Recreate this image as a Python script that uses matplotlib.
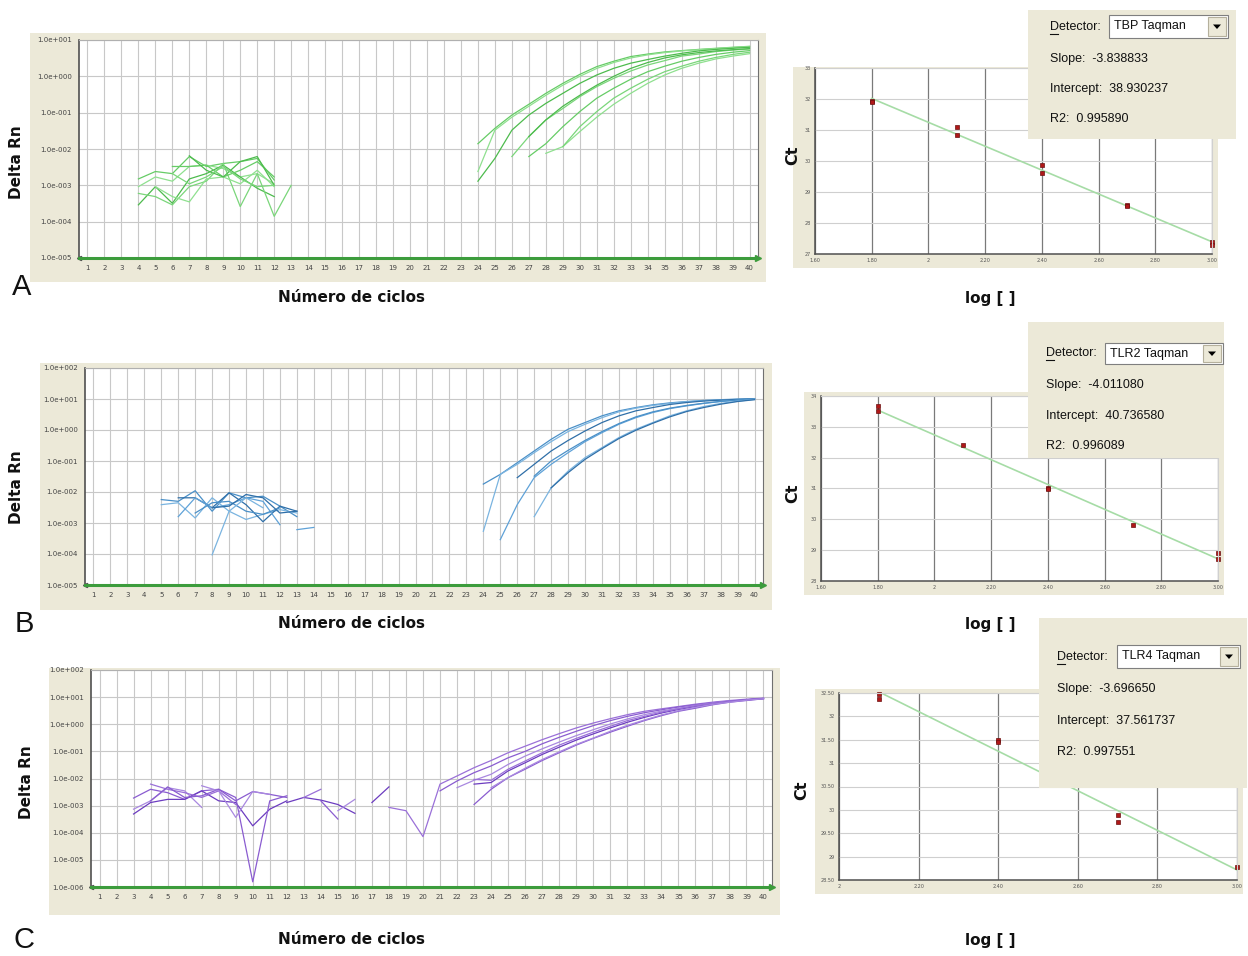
import numpy as np
import matplotlib
matplotlib.use('Agg')
import matplotlib.pyplot as plt
from matplotlib.patches import Rectangle, Polygon
from matplotlib.lines import Line2D
from matplotlib.ticker import NullLocator

W, H = 1248, 956

# amplification traces: (first cycle, Delta Rn per cycle)
tbp_noise = [
    (4, [1.5e-3, 2.4e-3, 2.1e-3, 6.2e-3, 3.3e-3, 4.0e-3, 4.5e-3, 5.5e-3, 1.4e-3]),
    (4, [9.2e-4, 1.7e-3, 1.3e-3, 3.3e-3, 3.6e-3, 2.9e-3, 1.7e-3, 2.1e-3, 1.1e-3]),
    (4, [2.9e-4, 9.2e-4, 3.2e-4, 1.5e-3, 2.1e-3, 3.6e-3, 1.7e-3, 8.3e-4, 4.9e-4]),
    (4, [6.0e-4, 4.9e-4, 2.9e-4, 9.2e-4, 1.3e-3, 4.0e-3, 2.6e-4, 2.1e-3, 1.4e-4, 1.0e-3]),
    (6, [3.3e-3, 3.3e-3, 3.6e-3, 1.7e-3, 2.6e-3, 4.5e-3, 1.7e-3]),
    (5, [9.2e-4, 4.9e-4, 3.5e-4, 1.5e-3, 1.7e-3, 1.1e-3, 2.6e-3, 9.2e-4]),
    (7, [6.5e-3, 2.6e-3, 1.7e-3, 4.5e-3, 6.2e-3, 1.0e-3]),
    (6, [2.1e-3, 1.1e-3, 1.7e-3, 3.3e-3, 1.5e-3, 9.2e-4, 1.0e-3]),
]
tbp_amp = [
    (24, [0.014, 0.037, 0.086, 0.17, 0.34, 0.64, 1.13, 1.85, 2.6, 3.5, 4.1, 4.7, 5.1, 5.5, 5.9, 6.3, 6.7]),
    (24, [0.0024, 0.033, 0.075, 0.15, 0.30, 0.57, 1.0, 1.65, 2.4, 3.2, 3.9, 4.5, 5.0, 5.4, 5.8, 6.2, 6.6]),
    (24, [0.0013, 0.0055, 0.033, 0.086, 0.18, 0.34, 0.64, 1.09, 1.66, 2.3, 2.9, 3.6, 4.3, 5.0, 5.5, 5.9, 6.3]),
    (26, [0.0062, 0.022, 0.063, 0.13, 0.275, 0.52, 0.88, 1.4, 2.05, 2.7, 3.6, 4.1, 4.8, 5.3, 5.65]),
    (27, [0.0062, 0.014, 0.041, 0.107, 0.25, 0.47, 0.83, 1.34, 1.9, 2.6, 3.3, 4.0, 4.6, 5.1]),
    (28, [0.0076, 0.0116, 0.030, 0.075, 0.17, 0.34, 0.64, 1.09, 1.66, 2.3, 3.0, 3.6, 4.2]),
    (27, [0.022, 0.063, 0.15, 0.30, 0.57, 1.0, 1.65, 2.4, 3.2, 3.9, 4.5, 5.0, 5.4, 5.8]),
    (29, [0.0116, 0.041, 0.107, 0.25, 0.47, 0.83, 1.34, 1.9, 2.6, 3.3, 4.0, 4.6]),
]

tlr2_noise = [
    (5, [5.7e-3, 5.0e-3, 1.1e-2, 2.4e-3, 9.4e-3, 6.5e-3, 7.3e-3, 3.5e-3, 1.6e-3]),
    (5, [3.9e-3, 4.5e-3, 1.45e-3, 6.5e-3, 2.4e-3, 1.3e-3, 1.9e-3, 2.7e-3, 2.1e-3]),
    (6, [6.5e-3, 6.5e-3, 3.1e-3, 9.4e-3, 3.9e-3, 1.1e-3, 3.5e-3, 2.4e-3]),
    (6, [1.6e-3, 6.5e-3, 3.1e-3, 3.9e-3, 6.5e-3, 5.0e-3, 8.8e-4]),
    (7, [2.1e-3, 4.5e-3, 5.0e-3, 2.4e-3, 1.9e-3, 3.1e-3]),
    (8, [9.4e-5, 2.4e-3, 6.5e-3, 3.1e-3]),
    (8, [3.1e-3, 3.5e-3, 8.3e-3, 6.5e-3, 2.1e-3, 2.4e-3]),
    (13, [6.1e-4, 7.2e-4]),
]
tlr2_amp = [
    (24, [0.018, 0.037, 0.088, 0.21, 0.50, 1.06, 1.74, 2.86, 4.15, 5.3, 6.5, 7.5, 8.3, 9.0, 9.5, 9.9, 10.3]),
    (24, [5.4e-4, 0.037, 0.078, 0.185, 0.42, 0.89, 1.53, 2.5, 3.85, 5.06, 6.2, 7.2, 8.1, 8.8, 9.3, 9.8, 10.2]),
    (26, [0.029, 0.078, 0.21, 0.46, 0.93, 1.74, 2.86, 4.15, 5.3, 6.65, 7.7, 8.6, 9.2, 9.7, 10.1]),
    (25, [2.9e-4, 3.9e-3, 0.029, 0.078, 0.185, 0.42, 0.82, 1.53, 2.5, 3.66, 4.9, 6.0, 7.2, 8.3, 9.1, 9.9]),
    (27, [0.0325, 0.10, 0.22, 0.46, 0.89, 1.61, 2.65, 3.85, 5.06, 6.2, 7.3, 8.4, 9.3, 10.0]),
    (27, [1.6e-3, 0.0136, 0.047, 0.128, 0.27, 0.57, 1.06, 1.74, 2.86, 4.15, 5.7, 7.2, 8.5, 9.7]),
    (28, [0.0136, 0.042, 0.113, 0.25, 0.53, 0.98, 1.65, 2.65, 3.95, 5.3, 6.8, 8.3, 9.5]),
]

tlr4_noise = [
    (3, [1.9e-3, 4.0e-3, 3.0e-3, 1.7e-3, 3.5e-3, 4.0e-3, 1.5e-3, 3.3e-3, 2.6e-3, 2.0e-3]),
    (3, [7.4e-4, 1.5e-3, 4.6e-3, 3.5e-3, 8.6e-4]),
    (3, [4.9e-4, 1.3e-3, 1.7e-3, 1.7e-3, 3.5e-3, 1.5e-3, 1.3e-3, 1.8e-4, 7.4e-4, 1.5e-3]),
    (4, [6.2e-3, 4.0e-3, 3.0e-3, 2.0e-3, 3.5e-3, 1.1e-3]),
    (4, [1.5e-3, 4.9e-3, 2.0e-3, 2.3e-3, 4.0e-3, 2.0e-3, 1.55e-6, 1.5e-3, 2.3e-3]),
    (7, [5.4e-3, 3.5e-3, 3.7e-4, 3.3e-3, 2.6e-3]),
    (12, [1.3e-3, 2.0e-3, 1.6e-3, 1.1e-3, 5.2e-4]),
    (13, [2.0e-3, 4.0e-3]),
    (14, [1.5e-3, 3.2e-4]),
    (15, [6.5e-4, 1.7e-3]),
    (17, [1.3e-3, 4.9e-3]),
]
tlr4_amp = [
    (18, [8.6e-4, 6.5e-4, 7.2e-5, 6.2e-3, 0.0124, 0.025, 0.046, 0.089, 0.155, 0.27, 0.45, 0.73,
          1.11, 1.6, 2.25, 3.0, 3.7, 4.5, 5.5, 6.5, 7.5, 8.4, 9.2]),
    (21, [3.5e-3, 8.1e-3, 0.0164, 0.029, 0.058, 0.10, 0.19, 0.33, 0.55, 0.89, 1.36, 1.95, 2.66,
          3.4, 4.3, 5.2, 6.2, 7.1, 7.95, 8.9]),
    (22, [4.6e-3, 8.6e-3, 0.0143, 0.033, 0.067, 0.124, 0.22, 0.38, 0.63, 1.02, 1.56, 2.25, 3.06,
          3.9, 4.9, 6.0, 7.1, 7.95, 8.9]),
    (23, [6.2e-3, 7.1e-3, 0.019, 0.038, 0.077, 0.143, 0.26, 0.44, 0.73, 1.18, 1.79, 2.6, 3.5,
          4.5, 5.7, 6.9, 7.95, 8.9]),
    (23, [9.3e-3, 8.6e-3, 0.022, 0.044, 0.089, 0.17, 0.30, 0.51, 0.84, 1.36, 1.95, 2.8, 3.7,
          4.8, 5.85, 6.9, 7.95, 8.9]),
    (23, [1.1e-3, 4.0e-3, 0.0108, 0.022, 0.046, 0.089, 0.17, 0.30, 0.51, 0.84, 1.36, 2.07, 3.0,
          3.9, 5.2, 6.5, 7.5, 8.7]),
    (24, [4.6e-3, 0.0108, 0.024, 0.050, 0.096, 0.18, 0.31, 0.55, 0.91, 1.43, 2.19, 3.15, 4.2,
          5.4, 6.5, 7.7, 8.7]),
]

cycles = list(range(1, 41))

# standard curves: log [ ] vs Ct
tbp_log = [1.8, 1.8, 2.1, 2.1, 2.4, 2.4, 2.7, 2.7, 3.0, 3.0]
tbp_ct = [31.95, 31.90, 31.09, 30.83, 29.86, 29.62, 28.58, 28.54, 27.40, 27.29]
tlr2_log = [1.8, 1.8, 2.1, 2.4, 2.4, 2.7, 3.0, 3.0]
tlr2_ct = [33.68, 33.51, 32.40, 31.02, 30.98, 29.83, 28.92, 28.70]
tlr4_log = [2.1, 2.1, 2.4, 2.4, 2.7, 2.7, 3.0]
tlr4_ct = [32.48, 32.38, 31.50, 31.46, 29.90, 29.75, 28.78]

x_ticks_ab = [1.6, 1.8, 2.0, 2.2, 2.4, 2.6, 2.8, 3.0]
x_labels_ab = ['1.60', '1.80', '2', '2.20', '2.40', '2.60', '2.80', '3.00']
x_ticks_c = [2.0, 2.2, 2.4, 2.6, 2.8, 3.0]
x_labels_c = ['2', '2.20', '2.40', '2.60', '2.80', '3.00']
y_ticks_a = [27, 28, 29, 30, 31, 32, 33]
y_ticks_b = [28, 29, 30, 31, 32, 33, 34]
y_ticks_c = [28.5, 29, 29.5, 30, 30.5, 31, 31.5, 32, 32.5]
y_labels_c = ['28.50', '29', '29.50', '30', '30.50', '31', '31.50', '32', '32.50']

BEIGE = '#ece9d8'
GREEN = ['#66cc66', '#8fe08f', '#4dbb4d', '#7ad67a']
BLUE = ['#4a90c8', '#7ab4e0', '#2f6fa8', '#5fa2d8']
PURPLE = ['#8a5cd0', '#a988e0', '#6c3cc0', '#9a70d8']
SANS = ['Liberation Sans', 'DejaVu Sans']

fig = plt.figure(figsize=(W / 100, H / 100), dpi=100)
fig.patch.set_facecolor('white')


def px_rect(x0, y0, x1, y1):
    return [x0 / W, 1 - y1 / H, (x1 - x0) / W, (y1 - y0) / H]


def add_box(x0, y0, x1, y1, fc, z, ec='none'):
    fig.add_artist(Rectangle((x0 / W, 1 - y1 / H), (x1 - x0) / W, (y1 - y0) / H,
                             transform=fig.transFigure, fc=fc, ec=ec, lw=0.8, zorder=z))


def ftext(x, y, s, **kw):
    fig.text(x / W, 1 - y / H, s, **kw)


def amp_panel(box, plot, elo, ehi, traces, colors):
    add_box(*box, BEIGE, -1)
    ax = fig.add_axes(px_rect(*plot))
    ax.set_yscale('log')
    ax.set_xlim(0.5, 40.5)
    ax.set_ylim(10.0 ** elo, 10.0 ** ehi)
    dec = list(range(elo, ehi + 1))
    ax.set_yticks([10.0 ** d for d in dec])
    ax.set_yticklabels(['1.0e%+04d' % d for d in dec])
    ax.yaxis.set_minor_locator(NullLocator())
    ax.set_xticks(cycles)
    ax.set_xticklabels([str(c) for c in cycles])
    ax.tick_params(length=0, labelsize=5, labelcolor='#444444', pad=5)
    ax.grid(True, color='#c8c8c8', lw=0.8)
    ax.set_axisbelow(True)
    ax.spines['top'].set_color('#b0b0b0')
    ax.spines['right'].set_color('#707070')
    ax.spines['left'].set_color('#505050')
    ax.spines['left'].set_linewidth(1.2)
    ax.spines['bottom'].set_color('#3c9c3c')
    ax.spines['bottom'].set_linewidth(2.2)
    for i, (s, v) in enumerate(traces):
        ax.plot(np.arange(s, s + len(v)), v, color=colors[i % len(colors)], lw=0.9)
    ax.plot([40.5], [10.0 ** elo], marker='>', ms=4, color='#3c9c3c', clip_on=False)
    ax.plot([0.5], [10.0 ** elo], marker='<', ms=3, color='#505050', clip_on=False)
    return ax


def std_panel(box, plot, xticks, xlabels, yticks, ylabels, lx, ct):
    add_box(*box, BEIGE, -1)
    ax = fig.add_axes(px_rect(*plot))
    ax.set_xlim(xticks[0], xticks[-1])
    ax.set_ylim(yticks[0], yticks[-1])
    ax.set_xticks(xticks)
    ax.set_xticklabels(xlabels)
    ax.set_yticks(yticks)
    ax.set_yticklabels(ylabels)
    ax.tick_params(length=0, labelsize=3.5, labelcolor='#555555', pad=3)
    ax.grid(axis='x', color='#7a7a7a', lw=0.9)
    ax.grid(axis='y', color='#cfcfcf', lw=0.8)
    ax.set_axisbelow(True)
    for sp in ['top', 'right']:
        ax.spines[sp].set_color('#d0d0d0')
    for sp in ['left', 'bottom']:
        ax.spines[sp].set_color('#505050')
        ax.spines[sp].set_linewidth(1.1)
    slope, icpt = np.polyfit(lx, ct, 1)
    xs = np.array([min(lx), max(lx)])
    ax.plot(xs, slope * xs + icpt, color='#a6dca6', lw=1.2)
    ax.plot(lx, ct, 's', ms=3.5, color='#b01818', mec='#6a1010', mew=0.5, clip_on=False)
    return ax


def info_box(box, tx, rows, drop, name, slope, icpt, r2):
    add_box(*box, BEIGE, 5)
    det_y, s_y, i_y, r_y = rows
    kw = dict(family=SANS, fontsize=9, va='center', ha='left', zorder=8, color='#111111')
    ftext(tx, det_y, 'Detector:', **kw)
    fig.add_artist(Line2D([tx / W, (tx + 8) / W], [1 - (det_y + 7) / H] * 2,
                          transform=fig.transFigure, color='#111111', lw=0.8, zorder=8))
    ftext(tx, s_y, 'Slope:  ' + slope, **kw)
    ftext(tx, i_y, 'Intercept:  ' + icpt, **kw)
    ftext(tx, r_y, 'R2:  ' + r2, **kw)
    dx0, dy0, dx1, dy1 = drop
    add_box(dx0, dy0, dx1, dy1, 'white', 6, ec='#7f7f7f')
    ftext(dx0 + 5, (dy0 + dy1) / 2, name, **kw)
    bx0, bx1 = dx1 - 20, dx1 - 2
    add_box(bx0, dy0 + 2, bx1, dy1 - 2, BEIGE, 7, ec='#b5b09c')
    cx, cy = (bx0 + bx1) / 2, (dy0 + dy1) / 2
    tri = [[(cx - 4) / W, 1 - (cy - 2) / H], [(cx + 4) / W, 1 - (cy - 2) / H],
           [cx / W, 1 - (cy + 2.5) / H]]
    fig.add_artist(Polygon(tri, closed=True, transform=fig.transFigure, fc='black',
                           ec='none', zorder=8))


# left: amplification plots
amp_panel((30, 33, 766, 282), (79, 40, 758, 258), -5, 1, tbp_noise + tbp_amp, GREEN)
amp_panel((40, 363, 772, 610), (85, 368, 763, 585), -5, 2, tlr2_noise + tlr2_amp, BLUE)
amp_panel((49, 668, 780, 915), (91, 670, 772, 887), -6, 2, tlr4_noise + tlr4_amp, PURPLE)

# right: standard curves
std_panel((793, 67, 1218, 268), (815, 68, 1212, 254), x_ticks_ab, x_labels_ab,
          y_ticks_a, [str(v) for v in y_ticks_a], tbp_log, tbp_ct)
std_panel((804, 392, 1224, 595), (821, 396, 1218, 581), x_ticks_ab, x_labels_ab,
          y_ticks_b, [str(v) for v in y_ticks_b], tlr2_log, tlr2_ct)
std_panel((815, 689, 1243, 894), (839, 693, 1237, 880), x_ticks_c, x_labels_c,
          y_ticks_c, y_labels_c, tlr4_log, tlr4_ct)

info_box((1028, 10, 1236, 139), 1050, (27, 59, 89, 119), (1109, 15, 1228, 38),
         'TBP Taqman', '-3.838833', '38.930237', '0.995890')
info_box((1028, 322, 1224, 458), 1046, (353, 385, 416, 446), (1105, 343, 1223, 364),
         'TLR2 Taqman', '-4.011080', '40.736580', '0.996089')
info_box((1039, 618, 1247, 788), 1057, (657, 689, 721, 752), (1117, 645, 1240, 668),
         'TLR4 Taqman', '-3.696650', '37.561737', '0.997551')

# labels
lab = dict(fontweight='bold', ha='center', va='center', color='#111111')
for y in (298, 624, 940):
    ftext(351, y, 'Número de ciclos', fontsize=11, **lab)
    ftext(990, y, 'log [ ]', fontsize=11, **lab)
for x, y in ((17, 162), (17, 487), (27, 782)):
    ftext(x, y, 'Delta Rn', fontsize=11, rotation=90, **lab)
for x, y in ((793, 155), (793, 493), (802, 790)):
    ftext(x, y, 'Ct', fontsize=11.5, rotation=90, **lab)
for x, y, s in ((22, 287, 'A'), (24, 624, 'B'), (24, 940, 'C')):
    ftext(x, y, s, fontsize=21, ha='center', va='center', color='#111111', family=SANS)

fig.savefig('out.png', dpi=100, facecolor='white')
